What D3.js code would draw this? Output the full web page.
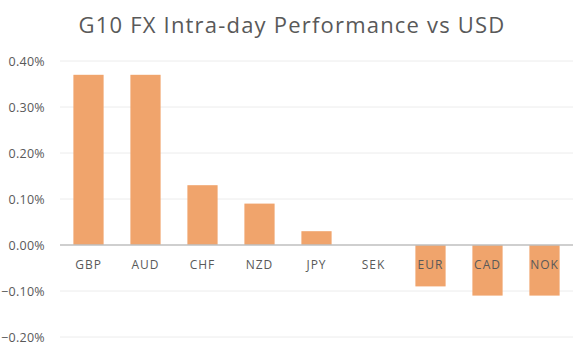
<!DOCTYPE html>
<html>
<head>
<meta charset="utf-8">
<script src="https://cdn.jsdelivr.net/npm/d3@7"></script>
<style>
  body { margin: 0; background: #fff; }
  text { font-family: "Open Sans", "DejaVu Sans", sans-serif; }
</style>
</head>
<body>
<svg width="584" height="351"></svg>
<script>
// Data
const currencies = ["GBP", "AUD", "CHF", "NZD", "JPY", "SEK", "EUR", "CAD", "NOK"];
const changes = [0.37, 0.37, 0.13, 0.09, 0.03, 0.0, -0.09, -0.11, -0.11]; // percent
const yTicks = [-0.2, -0.1, 0, 0.1, 0.2, 0.3, 0.4];

const svg = d3.select("svg");
const plotLeft = 60, plotRight = 573, plotTop = 61, plotBottom = 337;

// scales
const x = d3.scaleBand()
    .domain(currencies)
    .range([plotLeft, plotRight])
    .paddingInner(0.47)
    .paddingOuter(0.235);

const y = d3.scaleLinear()
    .domain([-0.2, 0.4])
    .range([plotBottom, plotTop]);

// title
svg.append("text")
    .attr("x", 292)
    .attr("y", 33)
    .attr("text-anchor", "middle")
    .attr("fill", "#595959")
    .style("font-size", "22px")
    .style("letter-spacing", "1.2px")
    .text("G10 FX Intra-day Performance vs USD");

// grid lines
svg.append("g")
    .selectAll("line")
    .data(yTicks.filter(d => d !== 0))
    .enter()
    .append("line")
    .attr("x1", plotLeft)
    .attr("x2", plotRight)
    .attr("y1", d => y(d))
    .attr("y2", d => y(d))
    .attr("stroke", "#ececec")
    .attr("stroke-width", 1);

// y axis, labels only
const yAxis = svg.append("g")
    .attr("transform", `translate(${plotLeft - 12},0)`)
    .call(d3.axisLeft(y).tickValues(yTicks).tickSize(0).tickFormat(d => d3.format(".2f")(d) + "%"));
yAxis.select(".domain").remove();
yAxis.selectAll("text")
    .attr("fill", "#595959")
    .style("font-size", "12.5px")
    .style("letter-spacing", "0.3px");

// bars
svg.append("g")
    .selectAll("rect")
    .data(changes)
    .enter()
    .append("rect")
    .attr("x", (d, i) => x(currencies[i]))
    .attr("y", d => y(Math.max(0, d)))
    .attr("width", x.bandwidth())
    .attr("height", d => Math.abs(y(d) - y(0)))
    .attr("fill", "#f0a46c");

// zero line
svg.append("line")
    .attr("x1", plotLeft)
    .attr("x2", plotRight)
    .attr("y1", y(0))
    .attr("y2", y(0))
    .attr("stroke", "#bfbfbf")
    .attr("stroke-width", 1.5);

// category labels sit just under the zero line
const xAxis = svg.append("g")
    .attr("transform", `translate(0,${y(0)})`)
    .call(d3.axisBottom(x).tickSize(0));
xAxis.select(".domain").remove();
xAxis.selectAll("text")
    .attr("fill", "#595959")
    .attr("dy", "1.75em")
    .style("font-size", "12px")
    .style("letter-spacing", "1px");
</script>
</body>
</html>
